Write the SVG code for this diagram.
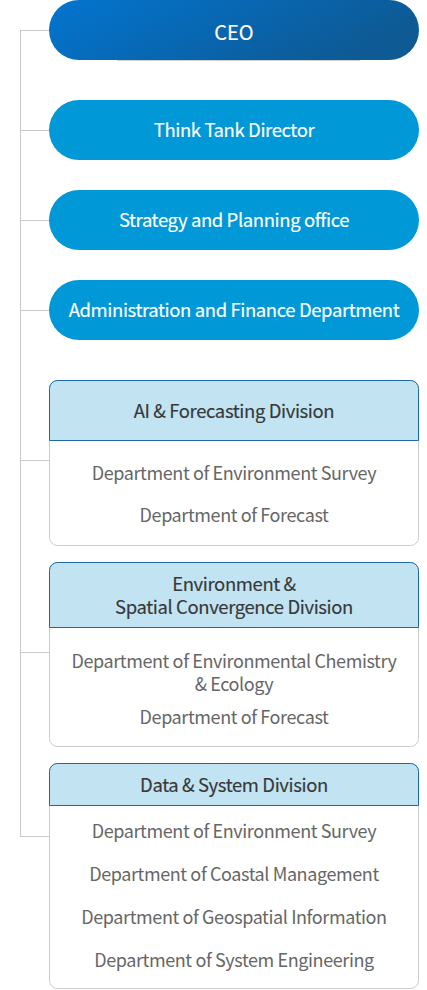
<svg xmlns="http://www.w3.org/2000/svg" width="427" height="990" viewBox="0 0 427 990">
<defs>
<linearGradient id="ceoGrad" x1="0" y1="0" x2="1" y2="0.3">
<stop offset="0" stop-color="#0375d0"/>
<stop offset="1" stop-color="#0d5a95"/>
</linearGradient>
<style>
.conn{stroke:#c8c8c8;stroke-width:1;fill:none}
.pill{fill:#0098d7}
.pt{font-family:"Noto Sans CJK KR","Noto Sans",sans-serif;font-size:18.5px;letter-spacing:-0.4px;font-weight:400;fill:#fff;stroke:#fff;stroke-width:0.15px;text-anchor:middle}
.body{fill:#fff;stroke:#cccccc;stroke-width:1}
.head{fill:#c1e3f2;stroke:#1c68a8;stroke-width:1}
.ht{font-family:"Noto Sans CJK KR","Noto Sans",sans-serif;font-size:18.5px;letter-spacing:-0.4px;font-weight:400;fill:#383838;stroke:#383838;stroke-width:0.15px;text-anchor:middle}
.bt{font-family:"Noto Sans CJK KR","Noto Sans",sans-serif;font-size:18px;letter-spacing:-0.4px;font-weight:400;fill:#666;text-anchor:middle}
</style>
</defs>
<rect width="427" height="990" fill="#fff"/>
<g id="connectors">
<path class="conn" d="M20.5 30 V836.5"/>
<path class="conn" d="M20 30.5 H49"/>
<path class="conn" d="M20 130.5 H49"/>
<path class="conn" d="M20 220.5 H49"/>
<path class="conn" d="M20 310.5 H49"/>
<path class="conn" d="M20 460.5 H49"/>
<path class="conn" d="M20 652.5 H49"/>
<path class="conn" d="M20 836.5 H49"/>
</g>
<g id="ceo">
<line x1="117" y1="60.5" x2="360" y2="60.5" stroke="#cfcfcf" stroke-width="1"/>
<rect x="49" y="0" width="370" height="60" rx="30" fill="url(#ceoGrad)"/>
<text class="pt" x="234" y="39.5" style="font-size:20px;letter-spacing:0">CEO</text>
</g>
<g id="think-tank">
<rect class="pill" x="49" y="100" width="370" height="60" rx="30"/>
<text class="pt" x="234" y="137">Think Tank Director</text>
</g>
<g id="strategy">
<rect class="pill" x="49" y="190" width="370" height="60" rx="30"/>
<text class="pt" x="234" y="227">Strategy and Planning office</text>
</g>
<g id="admin">
<rect class="pill" x="49" y="280" width="370" height="60" rx="30"/>
<text class="pt" x="234" y="317">Administration and Finance Department</text>
</g>
<g id="ai-division">
<rect class="body" x="49.5" y="380.5" width="369" height="165" rx="8"/>
<path class="head" d="M49.5 440.5 V388.5 A8 8 0 0 1 57.5 380.5 H410.5 A8 8 0 0 1 418.5 388.5 V440.5 Z"/>
<text class="ht" x="234" y="417.5">AI &amp; Forecasting Division</text>
<text class="bt" x="234" y="479.5">Department of Environment Survey</text>
<text class="bt" x="234" y="521.5">Department of Forecast</text>
</g>
<g id="env-division">
<rect class="body" x="49.5" y="562.5" width="369" height="184" rx="8"/>
<path class="head" d="M49.5 627.5 V570.5 A8 8 0 0 1 57.5 562.5 H410.5 A8 8 0 0 1 418.5 570.5 V627.5 Z"/>
<text class="ht" x="234" y="590.5">Environment &amp;</text>
<text class="ht" x="234" y="613.5">Spatial Convergence Division</text>
<text class="bt" x="234" y="667.5">Department of Environmental Chemistry</text>
<text class="bt" x="234" y="690.5">&amp; Ecology</text>
<text class="bt" x="234" y="723.5">Department of Forecast</text>
</g>
<g id="data-division">
<rect class="body" x="49.5" y="763.5" width="369" height="225" rx="8"/>
<path class="head" d="M49.5 805.5 V771.5 A8 8 0 0 1 57.5 763.5 H410.5 A8 8 0 0 1 418.5 771.5 V805.5 Z"/>
<text class="ht" x="234" y="791.5">Data &amp; System Division</text>
<text class="bt" x="234" y="837.5">Department of Environment Survey</text>
<text class="bt" x="234" y="880.5">Department of Coastal Management</text>
<text class="bt" x="234" y="923.5">Department of Geospatial Information</text>
<text class="bt" x="234" y="966.5">Department of System Engineering</text>
</g>
</svg>
